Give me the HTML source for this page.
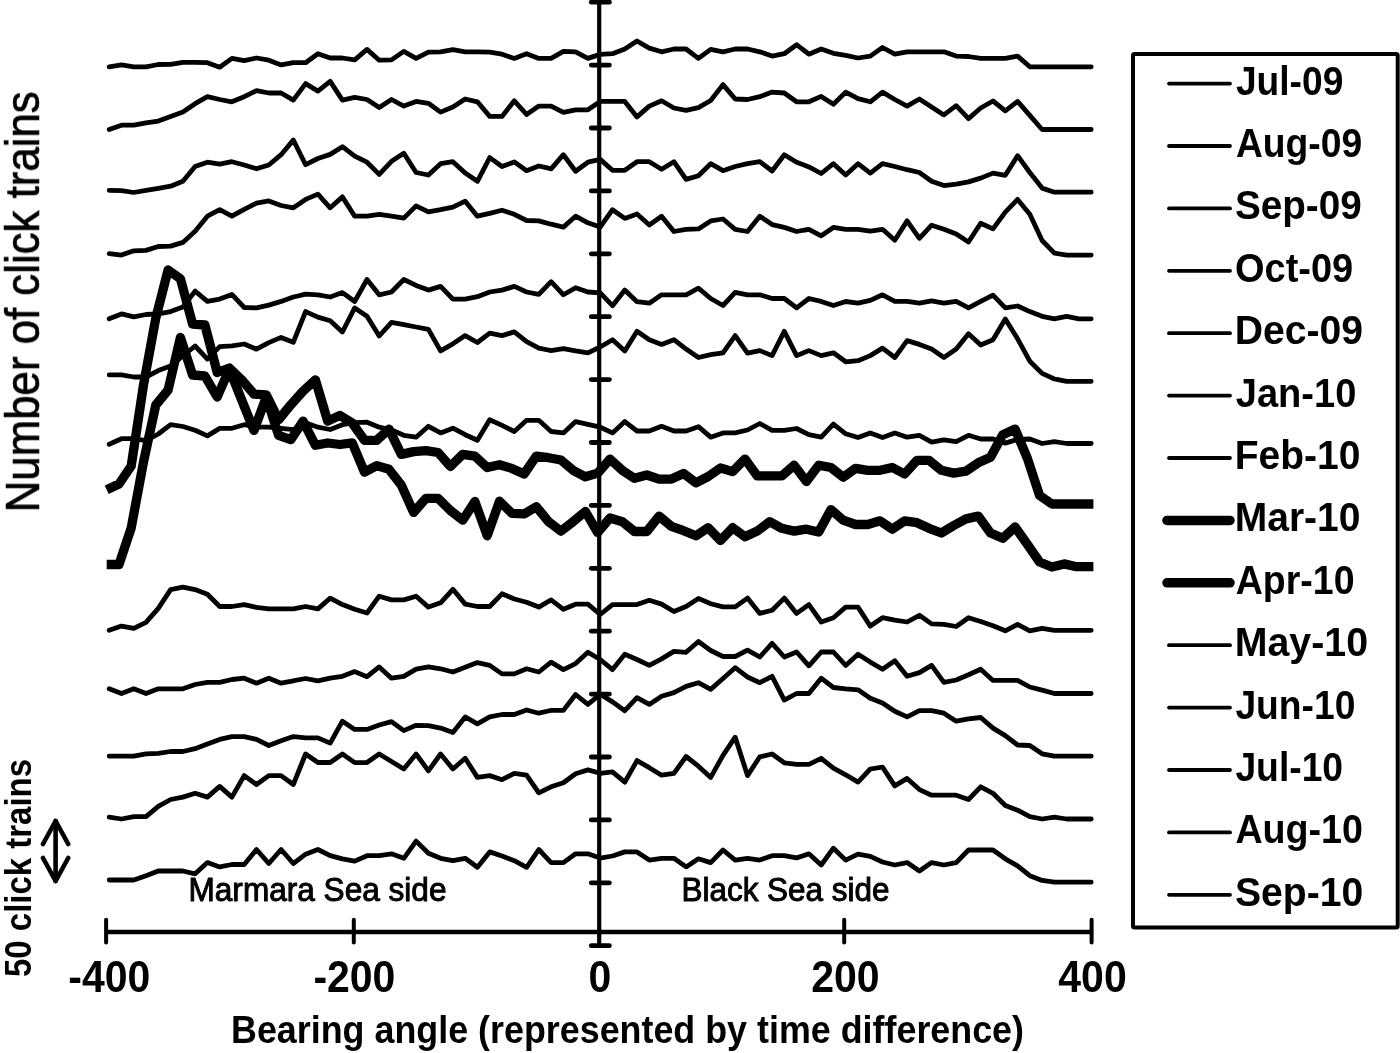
<!DOCTYPE html><html><head><meta charset="utf-8"><title>Click trains by bearing angle</title><style>html,body{margin:0;padding:0;background:#fff;}svg{display:block;}text{font-family:"Liberation Sans",Arial,sans-serif;fill:#000;}</style></head><body>
<svg width="1400" height="1053" viewBox="0 0 1400 1053">
<defs><filter id="soft" x="0" y="0" width="1400" height="1053" filterUnits="userSpaceOnUse"><feGaussianBlur stdDeviation="0.4"/></filter></defs>
<rect width="1400" height="1053" fill="#fff"/>
<g filter="url(#soft)">
<g stroke="#000" fill="none" stroke-linecap="round">
<line x1="599.2" y1="0" x2="599.2" y2="945" stroke-width="4.2" stroke-linecap="butt"/>
<line x1="591.3" y1="2.2" x2="609.4" y2="2.2" stroke-width="4.8"/>
<line x1="591.3" y1="65.1" x2="609.4" y2="65.1" stroke-width="4.8"/>
<line x1="591.3" y1="128" x2="609.4" y2="128" stroke-width="4.8"/>
<line x1="591.3" y1="190.9" x2="609.4" y2="190.9" stroke-width="4.8"/>
<line x1="591.3" y1="253.8" x2="609.4" y2="253.8" stroke-width="4.8"/>
<line x1="591.3" y1="316.7" x2="609.4" y2="316.7" stroke-width="4.8"/>
<line x1="591.3" y1="379.6" x2="609.4" y2="379.6" stroke-width="4.8"/>
<line x1="591.3" y1="442.5" x2="609.4" y2="442.5" stroke-width="4.8"/>
<line x1="591.3" y1="505.4" x2="609.4" y2="505.4" stroke-width="4.8"/>
<line x1="591.3" y1="568.3" x2="609.4" y2="568.3" stroke-width="4.8"/>
<line x1="591.3" y1="631.2" x2="609.4" y2="631.2" stroke-width="4.8"/>
<line x1="591.3" y1="694.1" x2="609.4" y2="694.1" stroke-width="4.8"/>
<line x1="591.3" y1="757" x2="609.4" y2="757" stroke-width="4.8"/>
<line x1="591.3" y1="819.9" x2="609.4" y2="819.9" stroke-width="4.8"/>
<line x1="591.3" y1="882.8" x2="609.4" y2="882.8" stroke-width="4.8"/>
<line x1="591.3" y1="945.7" x2="609.4" y2="945.7" stroke-width="4.8"/>
<line x1="106.1" y1="932" x2="1091.6" y2="932" stroke-width="4.6" stroke-linecap="butt"/>
<line x1="106.1" y1="919.8" x2="106.1" y2="942.4" stroke-width="4"/>
<line x1="353.8" y1="919.8" x2="353.8" y2="942.4" stroke-width="4"/>
<line x1="844.2" y1="919.8" x2="844.2" y2="942.4" stroke-width="4"/>
<line x1="1091.6" y1="919.8" x2="1091.6" y2="942.4" stroke-width="4"/>
</g>
<g font-size="41" font-weight="bold" text-anchor="middle">
<text transform="translate(109.3,991.8) scale(1,1.065)">-400</text>
<text transform="translate(354.4,991.8) scale(1,1.065)">-200</text>
<text transform="translate(600,991.8) scale(1,1.065)">0</text>
<text transform="translate(845.4,991.8) scale(1,1.065)">200</text>
<text transform="translate(1092.5,991.8) scale(1,1.065)">400</text>
</g>
<text x="231" y="1043" font-size="39" font-weight="bold" textLength="793" lengthAdjust="spacingAndGlyphs">Bearing angle (represented by time difference)</text>
<text transform="translate(39,512.3) rotate(-90)" font-size="48" stroke="#000" stroke-width="0.7" textLength="421" lengthAdjust="spacingAndGlyphs">Number of click trains</text>
<text transform="translate(31,977) rotate(-90)" font-size="37.5" font-weight="bold" textLength="218" lengthAdjust="spacingAndGlyphs">50 click trains</text>
<g stroke="#000" stroke-width="4.6" fill="none" stroke-linecap="round" stroke-linejoin="round"><line x1="55.6" y1="821" x2="55.6" y2="881"/><polyline points="43,844 55.6,821 68.2,844"/><polyline points="43,858 55.6,881 68.2,858"/></g>
<text x="188.5" y="901" font-size="33" stroke="#000" stroke-width="1" textLength="258" lengthAdjust="spacingAndGlyphs">Marmara Sea side</text>
<text x="681.5" y="901" font-size="33" stroke="#000" stroke-width="1" textLength="208" lengthAdjust="spacingAndGlyphs">Black Sea side</text>
<rect x="1133" y="53.9" width="264.7" height="873.6" rx="1.5" fill="none" stroke="#000" stroke-width="4"/>
<line x1="1169" y1="83.6" x2="1230" y2="83.6" stroke="#000" stroke-width="3.8" stroke-linecap="round"/>
<text transform="translate(1235.9,94.5) scale(0.896,1)" font-size="41.5" font-weight="bold">Jul-09</text>
<line x1="1169" y1="146" x2="1230" y2="146" stroke="#000" stroke-width="3.8" stroke-linecap="round"/>
<text transform="translate(1235.9,156.9) scale(0.898,1)" font-size="41.5" font-weight="bold">Aug-09</text>
<line x1="1169" y1="208.4" x2="1230" y2="208.4" stroke="#000" stroke-width="3.8" stroke-linecap="round"/>
<text transform="translate(1234.9,219.3) scale(0.932,1)" font-size="41.5" font-weight="bold">Sep-09</text>
<line x1="1169" y1="270.8" x2="1230" y2="270.8" stroke="#000" stroke-width="3.8" stroke-linecap="round"/>
<text transform="translate(1235,281.7) scale(0.915,1)" font-size="41.5" font-weight="bold">Oct-09</text>
<line x1="1169" y1="333.2" x2="1230" y2="333.2" stroke="#000" stroke-width="3.8" stroke-linecap="round"/>
<text transform="translate(1234.7,344.1) scale(0.943,1)" font-size="41.5" font-weight="bold">Dec-09</text>
<line x1="1169" y1="395.6" x2="1230" y2="395.6" stroke="#000" stroke-width="3.8" stroke-linecap="round"/>
<text transform="translate(1235.7,406.5) scale(0.918,1)" font-size="41.5" font-weight="bold">Jan-10</text>
<line x1="1169" y1="458" x2="1230" y2="458" stroke="#000" stroke-width="3.8" stroke-linecap="round"/>
<text transform="translate(1234.7,468.9) scale(0.940,1)" font-size="41.5" font-weight="bold">Feb-10</text>
<line x1="1167" y1="520.4" x2="1230" y2="520.4" stroke="#000" stroke-width="9.5" stroke-linecap="round"/>
<text transform="translate(1234.7,531.3) scale(0.940,1)" font-size="41.5" font-weight="bold">Mar-10</text>
<line x1="1167" y1="582.8" x2="1230" y2="582.8" stroke="#000" stroke-width="9.5" stroke-linecap="round"/>
<text transform="translate(1235.7,593.7) scale(0.904,1)" font-size="41.5" font-weight="bold">Apr-10</text>
<line x1="1169" y1="645.2" x2="1230" y2="645.2" stroke="#000" stroke-width="3.8" stroke-linecap="round"/>
<text transform="translate(1234.7,656.1) scale(0.948,1)" font-size="41.5" font-weight="bold">May-10</text>
<line x1="1169" y1="707.6" x2="1230" y2="707.6" stroke="#000" stroke-width="3.8" stroke-linecap="round"/>
<text transform="translate(1235.4,718.5) scale(0.897,1)" font-size="41.5" font-weight="bold">Jun-10</text>
<line x1="1169" y1="770" x2="1230" y2="770" stroke="#000" stroke-width="3.8" stroke-linecap="round"/>
<text transform="translate(1235.4,780.9) scale(0.898,1)" font-size="41.5" font-weight="bold">Jul-10</text>
<line x1="1169" y1="832.4" x2="1230" y2="832.4" stroke="#000" stroke-width="3.8" stroke-linecap="round"/>
<text transform="translate(1235.4,843.3) scale(0.907,1)" font-size="41.5" font-weight="bold">Aug-10</text>
<line x1="1169" y1="894.8" x2="1230" y2="894.8" stroke="#000" stroke-width="3.8" stroke-linecap="round"/>
<text transform="translate(1235,905.7) scale(0.943,1)" font-size="41.5" font-weight="bold">Sep-10</text>
<g fill="none" stroke="#000" stroke-linejoin="round" stroke-linecap="round">
<polyline stroke-width="4.8" points="109.2,66.8 121.5,64.9 133.8,66.8 146,66.8 158.3,64.5 170.6,64.4 182.9,62.3 195.1,62.3 207.4,62.7 219.7,67.2 231.9,58.4 244.2,60.6 256.5,58 268.8,60.2 281.1,64.9 293.3,62.7 305.6,62.7 317.9,53.7 330.2,58 342.4,58 354.7,59.9 367,49.4 379.2,60.2 391.5,59.9 403.8,51.4 416.1,58.4 428.4,52.2 440.6,51.8 452.9,49.6 465.2,51.8 477.4,51.8 489.7,52.2 502,54.2 514.3,58.4 526.6,53.7 538.8,58.4 551.1,58.4 563.4,51.4 575.6,51.8 587.9,58.4 600.2,54.4 612.5,53.7 624.8,49 637,41 649.3,48.1 661.6,51.8 673.9,49 686.1,49 698.4,58.4 710.7,49.4 723,51.8 735.2,49 747.5,49 759.8,51.8 772.1,56.1 784.3,53.7 796.6,44.7 808.9,54.2 821.2,49 833.4,53.3 845.7,55.4 858,58 870.3,56.1 882.5,47.5 894.8,54.2 907.1,51.8 919.4,51.8 931.6,51.8 943.9,51.8 956.2,56.1 968.5,56.5 980.7,58.4 993,58.4 1005.3,58.4 1017.6,56.1 1029.8,66.8 1042.1,66.8 1054.4,66.8 1066.7,66.8 1078.9,66.8 1091.2,66.8"/>
<polyline stroke-width="4.8" points="109.2,129.5 121.5,125.2 133.8,125.2 146,122.9 158.3,121.1 170.6,116.4 182.9,112.1 195.1,103.7 207.4,96.7 219.7,99.5 231.9,101.8 244.2,96.7 256.5,90.6 268.8,93 281.1,93 293.3,100.1 305.6,83.6 317.9,91.1 330.2,81.4 342.4,100.1 354.7,97.4 367,99.5 379.2,107.6 391.5,99.5 403.8,106.1 416.1,101.4 428.4,103.3 440.6,112.1 452.9,107 465.2,99 477.4,101.8 489.7,116.4 502,116.4 514.3,100.8 526.6,114.5 538.8,106.1 551.1,106.1 563.4,112.3 575.6,109.8 587.9,109.8 600.2,101.4 612.5,101.4 624.8,101.4 637,116.9 649.3,106.1 661.6,100.8 673.9,108 686.1,110.4 698.4,107.6 710.7,100.5 723,84.6 735.2,99 747.5,99.5 759.8,96.7 772.1,92.1 784.3,93 796.6,101.8 808.9,101.8 821.2,96.4 833.4,104.2 845.7,92.1 858,98.6 870.3,101.8 882.5,92.1 894.8,99.5 907.1,106.1 919.4,99 931.6,107 943.9,114.9 956.2,105.7 968.5,118.6 980.7,108 993,101 1005.3,110.8 1017.6,101.4 1029.8,115.4 1042.1,129.5 1054.4,129.5 1066.7,129.5 1078.9,129.5 1091.2,129.5"/>
<polyline stroke-width="4.8" points="109.2,190.3 121.5,190.7 133.8,192.5 146,190.3 158.3,188.4 170.6,186.2 182.9,181.3 195.1,166.5 207.4,162.2 219.7,164.1 231.9,161.7 244.2,165 256.5,168.8 268.8,165 281.1,154.7 293.3,140.1 305.6,164.7 317.9,158.5 330.2,154.4 342.4,146.7 354.7,156.2 367,162.2 379.2,174.4 391.5,161.3 403.8,153.2 416.1,172.5 428.4,175 440.6,163.7 452.9,161.7 465.2,173.1 477.4,181.3 489.7,157.6 502,166.5 514.3,161.9 526.6,170.7 538.8,166 551.1,168.8 563.4,154.7 575.6,171.2 587.9,162.2 600.2,159.4 612.5,170.3 624.8,170.3 637,161.7 649.3,161.7 661.6,169.2 673.9,161.7 686.1,179.4 698.4,175.7 710.7,163.7 723,170.7 735.2,166.5 747.5,163.7 759.8,161.7 772.1,171 784.3,154.7 796.6,162.2 808.9,166.9 821.2,173.5 833.4,163.7 845.7,175.1 858,163.7 870.3,173.1 882.5,163.7 894.8,166.5 907.1,169.7 919.4,172.5 931.6,181.3 943.9,185.6 956.2,184.1 968.5,181.9 980.7,178.1 993,173.1 1005.3,175.3 1017.6,155.7 1029.8,172.5 1042.1,188.1 1054.4,192.2 1066.7,192.2 1078.9,192.2 1091.2,192.2"/>
<polyline stroke-width="4.8" points="109.2,253.6 121.5,255.1 133.8,250.8 146,250.4 158.3,246.5 170.6,246.1 182.9,242.4 195.1,231.2 207.4,216.2 219.7,209.7 231.9,216.2 244.2,209.3 256.5,203.1 268.8,200.9 281.1,205.5 293.3,207.8 305.6,199.4 317.9,194.1 330.2,207.8 342.4,196.9 354.7,216.2 367,216.2 379.2,214.3 391.5,216.2 403.8,218.1 416.1,205.9 428.4,211.9 440.6,209.7 452.9,207.2 465.2,201.2 477.4,216.2 489.7,213.4 502,210.2 514.3,214.3 526.6,220.5 538.8,220.9 551.1,224.2 563.4,227.1 575.6,216.2 587.9,222.8 600.2,227.1 612.5,209.7 624.8,218.4 637,214 649.3,225 661.6,216.2 673.9,231.5 686.1,229.3 698.4,228.9 710.7,220.9 723,219 735.2,229.3 747.5,231.5 759.8,216.2 772.1,224.6 784.3,227.4 796.6,231.5 808.9,229.3 821.2,235.8 833.4,227.4 845.7,229.3 858,229.3 870.3,231.2 882.5,229.3 894.8,240.2 907.1,220.9 919.4,238.3 931.6,225.2 943.9,229.3 956.2,234 968.5,242 980.7,223.3 993,228.9 1005.3,212.1 1017.6,199.4 1029.8,214.3 1042.1,240.5 1054.4,253.1 1066.7,255.1 1078.9,255.1 1091.2,255.1"/>
<polyline stroke-width="4.8" points="109.2,318.8 121.5,313.9 133.8,316.9 146,314.5 158.3,313.9 170.6,311.6 182.9,307 195.1,291.1 207.4,301.4 219.7,299.1 231.9,294.4 244.2,307.5 256.5,307.9 268.8,305.1 281.1,301.4 293.3,297 305.6,294.2 317.9,294.8 330.2,297 342.4,292.6 354.7,301.5 367,279.5 379.2,294.8 391.5,292 403.8,279.5 416.1,285.4 428.4,290.1 440.6,286.4 452.9,299.1 465.2,299.1 477.4,296.7 489.7,292 502,290.1 514.3,286.4 526.6,292 538.8,294.4 551.1,281.7 563.4,294.8 575.6,287.7 587.9,292 600.2,292.9 612.5,305.7 624.8,290.1 637,301.7 649.3,303.2 661.6,294.8 673.9,294.8 686.1,294.8 698.4,288.2 710.7,298.5 723,305.5 735.2,292.4 747.5,294.8 759.8,294.8 772.1,298.5 784.3,298.5 796.6,307.9 808.9,298.5 821.2,301.4 833.4,305.5 845.7,301.5 858,303.2 870.3,300.4 882.5,294.8 894.8,301.4 907.1,301.4 919.4,303.2 931.6,300.8 943.9,303.2 956.2,301.4 968.5,307.9 980.7,301.4 993,295.2 1005.3,307.9 1017.6,306 1029.8,311.6 1042.1,316.3 1054.4,318.8 1066.7,316.3 1078.9,318.8 1091.2,318.8"/>
<polyline stroke-width="4.8" points="109.2,374.9 121.5,374.9 133.8,377 146,377 158.3,370.6 170.6,366 182.9,356 195.1,346 207.4,359.1 219.7,346.6 231.9,345.8 244.2,344 256.5,349.2 268.8,342.6 281.1,337.4 293.3,342.3 305.6,311.6 317.9,317.1 330.2,320.8 342.4,332 354.7,307.9 367,316.3 379.2,336 391.5,322.3 403.8,324.7 416.1,327 428.4,329.4 440.6,350.9 452.9,343.8 465.2,335.6 477.4,342.5 489.7,333.2 502,335.6 514.3,331.9 526.6,341.6 538.8,348.1 551.1,350.6 563.4,348.7 575.6,350.9 587.9,352.8 600.2,347 612.5,339.7 624.8,350.9 637,331.3 649.3,339.7 661.6,344.4 673.9,339.7 686.1,349.1 698.4,357.5 710.7,354.7 723,352.8 735.2,335.6 747.5,353.2 759.8,350.6 772.1,355.6 784.3,331.3 796.6,355.6 808.9,350.6 821.2,355.6 833.4,352.8 845.7,361.8 858,360.7 870.3,355.6 882.5,348.1 894.8,357.5 907.1,340.6 919.4,344.4 931.6,349.1 943.9,357.5 956.2,349.1 968.5,333.7 980.7,345 993,339.7 1005.3,319.1 1017.6,338.8 1029.8,361.2 1042.1,373.4 1054.4,379 1066.7,381.3 1078.9,381.3 1091.2,381.3"/>
<polyline stroke-width="4.8" points="109.2,444.3 121.5,438.7 133.8,438.7 146,440.6 158.3,434 170.6,424.7 182.9,426.5 195.1,430.3 207.4,435.9 219.7,428.4 231.9,428.3 244.2,424.7 256.5,427.2 268.8,427.2 281.1,428.4 293.3,429.7 305.6,422.8 317.9,427.2 330.2,429.5 342.4,424.7 354.7,422.6 367,422.2 379.2,427.2 391.5,430 403.8,435.3 416.1,437.2 428.4,426.3 440.6,432.9 452.9,428.2 465.2,434.7 477.4,440.3 489.7,419.8 502,425.4 514.3,431.5 526.6,420.3 538.8,420.3 551.1,431.5 563.4,432.9 575.6,421.6 587.9,424.4 600.2,427.2 612.5,432.9 624.8,421.6 637,431 649.3,431 661.6,426.3 673.9,431 686.1,431 698.4,426.7 710.7,437.2 723,432.9 735.2,432.9 747.5,430 759.8,423.5 772.1,430.4 784.3,430.4 796.6,428.5 808.9,434.7 821.2,437.2 833.4,424.1 845.7,433.8 858,437.5 870.3,432.9 882.5,437.5 894.8,432.9 907.1,437.2 919.4,435.3 931.6,442.2 943.9,439.8 956.2,441.6 968.5,435.3 980.7,439 993,439 1005.3,443.1 1017.6,439.4 1029.8,439 1042.1,443.5 1054.4,441.6 1066.7,443.5 1078.9,443.5 1091.2,443.5"/>
<polyline stroke-width="9.3" stroke-linecap="butt" points="106.7,489.7 119,484 131.2,466 143.5,385 155.8,318 168.1,270 180.4,278.7 192.6,324 204.9,325 217.2,372.5 229.4,368 241.7,379.8 254,394.1 266.3,394.8 278.6,419.7 290.8,404.8 303.1,391.2 315.4,379.8 327.7,421.1 339.9,415.4 352.2,423 364.5,440.3 376.8,440.3 389,429.1 401.3,454.4 413.6,451.6 425.9,450.6 438.1,452.5 450.4,466.5 462.7,454.4 474.9,456.2 487.2,467.5 499.5,464.7 511.8,468.4 524.1,474 536.3,456.2 548.6,457.7 560.9,460 573.1,470.3 585.4,476.8 597.7,473.1 610,459.1 622.3,470.3 634.5,478.3 646.8,475 659.1,479.1 671.4,479.1 683.6,473.5 695.9,482.8 708.2,476.5 720.5,468 732.7,471.6 745,459.1 757.3,475.9 769.6,475.9 781.8,475.9 794.1,465.2 806.4,481.5 818.7,465.2 830.9,467.5 843.2,477.2 855.5,468.4 867.8,470.3 880,470.3 892.3,467.5 904.6,474 916.9,460.4 929.1,460.4 941.4,470.3 953.7,473.1 966,471.2 978.2,462.8 990.5,457.2 1002.8,434.7 1015.1,429.1 1027.3,458.1 1039.6,495.5 1051.9,504 1064.2,504 1076.4,504 1088.7,504 1093.4,504"/>
<polyline stroke-width="9.3" stroke-linecap="butt" points="106.7,564.5 119,564.5 131.2,528 143.5,462 155.8,405 168.1,390 180.4,337.5 192.6,375 204.9,376 217.2,397 229.4,369 241.7,400 254,430.4 266.3,397 278.6,435.4 290.8,439.6 303.1,421.1 315.4,445.3 327.7,443 339.9,444.5 352.2,442.8 364.5,472.1 376.8,465.6 389,469.3 401.3,485.2 413.6,512.4 425.9,498.4 438.1,498.4 450.4,510.5 462.7,520.2 474.9,501.5 487.2,535.8 499.5,501.2 511.8,513.3 524.1,513.9 536.3,506.8 548.6,521.7 560.9,531.1 573.1,521.7 585.4,511.5 597.7,532.6 610,518 622.3,521.7 634.5,531.5 646.8,531.5 659.1,516.1 671.4,526.4 683.6,530.7 695.9,535.8 708.2,527.7 720.5,540.5 732.7,527.7 745,536.7 757.3,531.1 769.6,521.7 781.8,528.3 794.1,531.1 806.4,529.2 818.7,532 830.9,509.6 843.2,520.2 855.5,524.5 867.8,524.5 880,520.8 892.3,529.2 904.6,520.8 916.9,522.7 929.1,528.3 941.4,533 953.7,525.5 966,518.9 978.2,516.1 990.5,533 1002.8,538.2 1015.1,527 1027.3,544.2 1039.6,562 1051.9,567 1064.2,563.9 1076.4,566.7 1088.7,566.7 1093.4,566.7"/>
<polyline stroke-width="4.8" points="109.2,630.3 121.5,626.1 133.8,628.4 146,622.4 158.3,608.4 170.6,589.6 182.9,587.2 195.1,589.6 207.4,594.3 219.7,606.5 231.9,606.5 244.2,604.6 256.5,607.4 268.8,608.9 281.1,608.9 293.3,608.9 305.6,606.5 317.9,608.9 330.2,598.1 342.4,604.6 354.7,609.3 367,613 379.2,596.2 391.5,599.9 403.8,599.9 416.1,596.2 428.4,607.1 440.6,602.8 452.9,589.3 465.2,604.1 477.4,606.5 489.7,606.5 502,593.8 514.3,599 526.6,602.2 538.8,607.1 551.1,599.9 563.4,609.3 575.6,604.2 587.9,604.2 600.2,614.5 612.5,604.6 624.8,604.6 637,604.6 649.3,600.3 661.6,604.1 673.9,611.5 686.1,606.5 698.4,598.4 710.7,603.7 723,606.9 735.2,606.9 747.5,598.1 759.8,613.4 772.1,610.2 784.3,598.1 796.6,613.4 808.9,604.6 821.2,622 833.4,617.7 845.7,607.1 858,607.1 870.3,626.1 882.5,617.7 894.8,620.2 907.1,622 919.4,615.3 931.6,623.9 943.9,624.3 956.2,626.5 968.5,617.7 980.7,621.5 993,625.8 1005.3,630.8 1017.6,624.3 1029.8,630.8 1042.1,628.4 1054.4,630.3 1066.7,630.3 1078.9,630.3 1091.2,630.3"/>
<polyline stroke-width="4.8" points="109.2,688.8 121.5,693.5 133.8,688.8 146,693.5 158.3,688.8 170.6,688.8 182.9,688.8 195.1,684.5 207.4,682.3 219.7,682.3 231.9,679.5 244.2,678.2 256.5,683.2 268.8,678.2 281.1,683.2 293.3,680.8 305.6,678.5 317.9,680.8 330.2,678.2 342.4,676.3 354.7,671.6 367,676.7 379.2,666.9 391.5,678.2 403.8,676.3 416.1,669.2 428.4,666.9 440.6,668.8 452.9,672 465.2,667.3 477.4,662.6 489.7,665.4 502,673.9 514.3,673.9 526.6,668.8 538.8,672 551.1,662.1 563.4,669.6 575.6,663.6 587.9,652.3 600.2,659.5 612.5,669.6 624.8,654.2 637,659.5 649.3,665.4 661.6,658.9 673.9,651.4 686.1,652.3 698.4,641.5 710.7,650.5 723,656.5 735.2,656.5 747.5,650.1 759.8,657 772.1,643.4 784.3,657 796.6,652 808.9,665.8 821.2,652 833.4,652 845.7,665.4 858,654.2 870.3,662.1 882.5,669.2 894.8,660.8 907.1,676.3 919.4,672.6 931.6,665.4 943.9,682.3 956.2,680 968.5,674.8 980.7,669.2 993,680.4 1005.3,680.4 1017.6,680.4 1029.8,687 1042.1,690.1 1054.4,693.5 1066.7,693.5 1078.9,693.5 1091.2,693.5"/>
<polyline stroke-width="4.8" points="109.2,756.2 121.5,756.2 133.8,756.2 146,753.8 158.3,753.4 170.6,751.5 182.9,751.5 195.1,748.7 207.4,744 219.7,739.4 231.9,736.6 244.2,736.6 256.5,739.4 268.8,745.5 281.1,740.7 293.3,736.6 305.6,737.9 317.9,737.9 330.2,743.1 342.4,721.2 354.7,729.4 367,729.4 379.2,725 391.5,721.6 403.8,730.6 416.1,725.3 428.4,725.7 440.6,728.1 452.9,732.4 465.2,716.9 477.4,723.8 489.7,716.9 502,714.5 514.3,714.5 526.6,710 538.8,713.2 551.1,710.4 563.4,710.4 575.6,694.5 587.9,704.4 600.2,694.3 612.5,701.9 624.8,710.7 637,697.6 649.3,704.4 661.6,696.3 673.9,692.6 686.1,686.4 698.4,682.7 710.7,689.4 723,678.5 735.2,667.7 747.5,677 759.8,682.7 772.1,676.3 784.3,700.1 796.6,693.5 808.9,693.5 821.2,678.2 833.4,687.5 845.7,688.8 858,689.8 870.3,698.2 882.5,702.9 894.8,711.3 907.1,716.9 919.4,710.7 931.6,710.7 943.9,713.2 956.2,721.2 968.5,718.8 980.7,717.5 993,728.1 1005.3,735.6 1017.6,745 1029.8,745.5 1042.1,753.8 1054.4,756.2 1066.7,756.2 1078.9,756.2 1091.2,756.2"/>
<polyline stroke-width="4.8" points="109.2,817.1 121.5,819 133.8,816.7 146,816.7 158.3,806.4 170.6,799.5 182.9,797.1 195.1,793.3 207.4,797.1 219.7,786.4 231.9,797.1 244.2,775.6 256.5,784.5 268.8,775.6 281.1,775.6 293.3,784.5 305.6,754 317.9,762.5 330.2,762.5 342.4,754 354.7,762.6 367,762.5 379.2,754 391.5,761.5 403.8,769 416.1,754 428.4,770.9 440.6,754 452.9,769 465.2,758.3 477.4,777.4 489.7,775.6 502,779.7 514.3,773.3 526.6,775.2 538.8,792.8 551.1,786.8 563.4,782.7 575.6,773.7 587.9,769.9 600.2,773.3 612.5,771.8 624.8,782.1 637,760.6 649.3,767.7 661.6,775.2 673.9,773.3 686.1,756.5 698.4,766.2 710.7,777.4 723,755.3 735.2,737.2 747.5,775.6 759.8,756.8 772.1,754 784.3,762.8 796.6,764.3 808.9,764.3 821.2,758.3 833.4,768.1 845.7,774.8 858,782.1 870.3,769 882.5,767.1 894.8,785.9 907.1,778.4 919.4,789.6 931.6,795.2 943.9,795.2 956.2,795.2 968.5,799.5 980.7,786.8 993,793.3 1005.3,805.5 1017.6,810.2 1029.8,816.7 1042.1,819 1054.4,817.1 1066.7,819 1078.9,819 1091.2,819"/>
<polyline stroke-width="4.8" points="109.2,880 121.5,880 133.8,880 146,875.7 158.3,871 170.6,871 182.9,871 195.1,873.8 207.4,862.6 219.7,866.9 231.9,864.5 244.2,864.5 256.5,849.5 268.8,863.5 281.1,849.5 293.3,863.5 305.6,854.2 317.9,849.5 330.2,855.7 342.4,858.8 354.7,861.1 367,855.7 379.2,855.7 391.5,853.8 403.8,858.3 416.1,841.1 428.4,853.2 440.6,858.3 452.9,860.7 465.2,858.3 477.4,867.3 489.7,851.9 502,856 514.3,860.7 526.6,867.3 538.8,849.5 551.1,862.6 563.4,862.6 575.6,853.8 587.9,853.8 600.2,858.1 612.5,856 624.8,851.9 637,851.9 649.3,860.1 661.6,858.3 673.9,858.3 686.1,866.9 698.4,858.8 710.7,862.6 723,850 735.2,860.1 747.5,858.3 759.8,860.1 772.1,855.7 784.3,855.7 796.6,857.9 808.9,853.8 821.2,865 833.4,848.2 845.7,860.1 858,854.2 870.3,856.4 882.5,862 894.8,865 907.1,862.6 919.4,871 931.6,862.6 943.9,865 956.2,862.6 968.5,850 980.7,850 993,850 1005.3,858.8 1017.6,865.8 1029.8,875.7 1042.1,880.4 1054.4,882.2 1066.7,882.2 1078.9,882.2 1091.2,882.2"/>
</g>
</g>
</svg></body></html>
